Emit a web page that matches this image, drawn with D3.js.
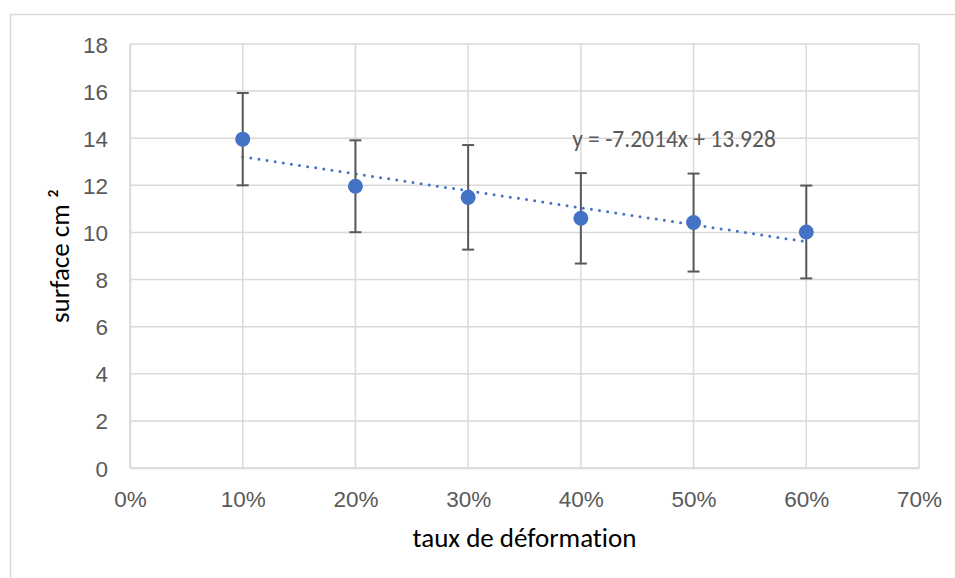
<!DOCTYPE html>
<html>
<head>
<meta charset="utf-8">
<script src="https://cdn.jsdelivr.net/npm/d3@7"></script>
<style>
  html, body { margin: 0; padding: 0; background: #fff; }
  svg { display: block; font-family: Calibri, Carlito, Lato, sans-serif; font-variant-ligatures: none; }
</style>
</head>
<body>
<svg id="chart" width="955" height="578"></svg>
<script>
// Strain levels (fraction) and measured surface (cm²)
const strainLevels = [0.1, 0.2, 0.3, 0.4, 0.5, 0.6];
const surfaceMeans = [13.96, 11.96, 11.49, 10.60, 10.42, 10.02];
const surfaceErrors = [1.96, 1.95, 2.22, 1.92, 2.08, 1.97];

// Linear trend reported on the chart
const trendSlope = -7.2014;
const trendIntercept = 13.928;

// Axis ticks
const xTicks = [0, 0.1, 0.2, 0.3, 0.4, 0.5, 0.6, 0.7];
const yTicks = [0, 2, 4, 6, 8, 10, 12, 14, 16, 18];

const xTitle = "taux de déformation";
const yTitle = "surface cm ²";

const svg = d3.select("#chart");
const W = 955, H = 578;
const plot = { left: 130, right: 919, top: 44, bottom: 468 };

const x = d3.scaleLinear().domain([0, 0.7]).range([plot.left, plot.right]);
const y = d3.scaleLinear().domain([0, 18]).range([plot.bottom, plot.top]);

const gridColor = "#d9d9d9";
const textGray = "#595959";
const blue = "#4472c4";

// Chart area border (top and left edges visible)
svg.append("path")
  .attr("d", `M10.5,${H} L10.5,14.5 L${W},14.5`)
  .attr("fill", "none")
  .attr("stroke", gridColor)
  .attr("stroke-width", 1.5);

// Gridlines
const grid = svg.append("g");
grid.selectAll("line.h").data(yTicks).join("line")
  .attr("x1", plot.left).attr("x2", plot.right)
  .attr("y1", d => y(d)).attr("y2", d => y(d))
  .attr("stroke", gridColor).attr("stroke-width", 1.5);
grid.selectAll("line.v").data(xTicks).join("line")
  .attr("y1", plot.top).attr("y2", plot.bottom)
  .attr("x1", d => x(d)).attr("x2", d => x(d))
  .attr("stroke", gridColor).attr("stroke-width", 1.5);

// Axes (labels only; lines come from the grid)
const xAxis = d3.axisBottom(x).tickValues(xTicks).tickFormat(d3.format(".0%")).tickSize(0).tickPadding(0);
const gx = svg.append("g").attr("transform", `translate(0,${plot.bottom})`).call(xAxis);
gx.select(".domain").attr("stroke", gridColor).attr("stroke-width", 1.5);
gx.selectAll("text")
  .attr("y", 39).attr("dy", null)
  .attr("fill", textGray)
  .style("font-size", "22.5px");

const yAxis = d3.axisLeft(y).tickValues(yTicks).tickSize(0).tickPadding(0);
const gy = svg.append("g").attr("transform", `translate(${plot.left},0)`).call(yAxis);
gy.select(".domain").attr("stroke", gridColor).attr("stroke-width", 1.5);
gy.selectAll("text")
  .attr("x", -22).attr("dy", "0.36em")
  .attr("fill", textGray)
  .style("font-size", "22.5px");
svg.selectAll(".tick line").remove();

// Axis titles
svg.append("text")
  .attr("x", (plot.left + plot.right) / 2)
  .attr("y", 547)
  .attr("text-anchor", "middle")
  .attr("fill", "#000")
  .style("font-size", "27px")
  .text(xTitle);

svg.append("text")
  .attr("transform", `translate(69,${(plot.top + plot.bottom) / 2}) rotate(-90)`)
  .attr("text-anchor", "middle")
  .attr("fill", "#000")
  .style("font-size", "27px")
  .text(yTitle);

// Trend line across the measured range
const x0 = d3.min(strainLevels), x1 = d3.max(strainLevels);
svg.append("line")
  .attr("x1", x(x0)).attr("y1", y(trendSlope * x0 + trendIntercept))
  .attr("x2", x(x1)).attr("y2", y(trendSlope * x1 + trendIntercept))
  .attr("stroke", blue)
  .attr("stroke-width", 3)
  .attr("stroke-linecap", "round")
  .attr("stroke-dasharray", "0 8.2");

// Error bars
const data = strainLevels.map((s, i) => ({ s, v: surfaceMeans[i], e: surfaceErrors[i] }));
const eb = svg.append("g").attr("stroke", textGray).attr("stroke-width", 2);
eb.selectAll("line.stem").data(data).join("line")
  .attr("x1", d => x(d.s)).attr("x2", d => x(d.s))
  .attr("y1", d => y(d.v + d.e)).attr("y2", d => y(d.v - d.e));
eb.selectAll("line.capTop").data(data).join("line")
  .attr("x1", d => x(d.s) - 6).attr("x2", d => x(d.s) + 6)
  .attr("y1", d => y(d.v + d.e)).attr("y2", d => y(d.v + d.e));
eb.selectAll("line.capBot").data(data).join("line")
  .attr("x1", d => x(d.s) - 6).attr("x2", d => x(d.s) + 6)
  .attr("y1", d => y(d.v - d.e)).attr("y2", d => y(d.v - d.e));

// Markers
svg.append("g").selectAll("circle").data(data).join("circle")
  .attr("cx", d => x(d.s)).attr("cy", d => y(d.v))
  .attr("r", 7.5)
  .attr("fill", blue);

// Trend equation
svg.append("text")
  .attr("x", 674)
  .attr("y", 147)
  .attr("text-anchor", "middle")
  .attr("fill", textGray)
  .style("font-size", "23.5px")
  .text(`y = ${trendSlope}x + ${trendIntercept}`);
</script>
</body>
</html>
